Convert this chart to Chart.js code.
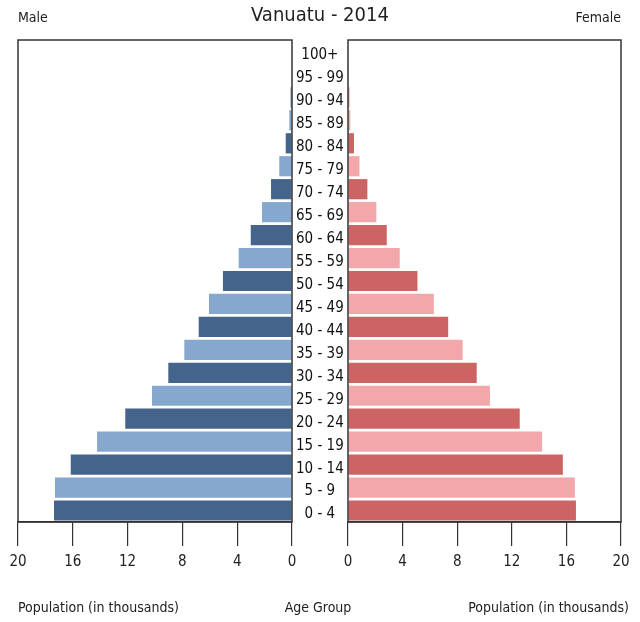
<!DOCTYPE html>
<html>
<head>
<meta charset="utf-8">
<script src="https://cdn.jsdelivr.net/npm/chart.js@4.4.1/dist/chart.umd.min.js"></script>
<style>
  html, body { margin: 0; padding: 0; background: #ffffff; }
  #wrap { position: relative; width: 640px; height: 622px; overflow: hidden; background: #fff;
          font-family: "DejaVu Sans Condensed", "DejaVu Sans", sans-serif; color: #222; }
  canvas { position: absolute; left: 0; top: 0; }
  .t { position: absolute; white-space: nowrap; line-height: 1; }
</style>
</head>
<body>
<div id="wrap">
  <canvas id="male" width="640" height="622"></canvas>
  <canvas id="female" width="640" height="622"></canvas>
  <div class="t" id="title" style="left:0;width:640px;text-align:center;top:4px;font-size:20px;">Vanuatu - 2014</div>
  <div class="t" id="lm" style="left:18px;top:10px;font-size:14px;">Male</div>
  <div class="t" id="lf" style="right:19px;top:10px;font-size:14px;">Female</div>
  <div class="t" id="bl" style="left:18px;top:600px;font-size:14px;">Population (in thousands)</div>
  <div class="t" id="bc" style="left:218px;width:200px;text-align:center;top:600px;font-size:14px;">Age Group</div>
  <div class="t" id="br" style="right:11px;top:600px;font-size:14px;">Population (in thousands)</div>
</div>
<script>
// Data (bottom to top: 0-4 first)
const ageGroups = ["0 - 4","5 - 9","10 - 14","15 - 19","20 - 24","25 - 29","30 - 34","35 - 39","40 - 44","45 - 49","50 - 54","55 - 59","60 - 64","65 - 69","70 - 74","75 - 79","80 - 84","85 - 89","90 - 94","95 - 99","100+"];
const maleValues = [17.37, 17.3, 16.15, 14.23, 12.17, 10.22, 9.03, 7.86, 6.81, 6.06, 5.04, 3.89, 3.01, 2.19, 1.53, 0.93, 0.46, 0.2, 0.1, 0.05, 0];
const femaleValues = [16.7, 16.62, 15.74, 14.22, 12.58, 10.4, 9.43, 8.4, 7.34, 6.29, 5.09, 3.79, 2.84, 2.08, 1.42, 0.84, 0.44, 0.17, 0.1, 0.07, 0];
const xTicks = [0, 4, 8, 12, 16, 20];

const maleDark = "#45648c", maleLight = "#87a8ce";
const femaleDark = "#cd6464", femaleLight = "#f2a8aa";

const FONT = '"DejaVu Sans Condensed", "DejaVu Sans", sans-serif';
Chart.defaults.font.family = FONT;
Chart.defaults.color = "#222";

const framePlugin = {
  id: 'frame',
  afterDatasetsDraw(chart) {
    const a = chart.chartArea, ctx = chart.ctx;
    ctx.save();
    ctx.strokeStyle = "#333";
    ctx.lineWidth = 1.5;
    ctx.strokeRect(a.left, a.top, a.right - a.left, a.bottom - a.top);
    ctx.restore();
  }
};

function xScale(reverse) {
  return {
    type: 'linear', min: 0, max: 20, reverse: reverse, position: 'bottom',
    afterBuildTicks(s) { s.ticks = xTicks.map(v => ({ value: v })); },
    afterFit(s) { s.height = 50; },
    ticks: { font: { size: 15 }, color: "#222", padding: 7, maxRotation: 0 },
    grid: { drawOnChartArea: false, drawTicks: true, tickLength: 24, color: "#333", lineWidth: 1.2 },
    border: { display: true, color: "#333", width: 1.5 }
  };
}

function colors(dark, light) {
  return ageGroups.map((_, i) => i % 2 === 0 ? dark : light);
}

new Chart(document.getElementById('male'), {
  type: 'bar',
  data: {
    labels: ageGroups,
    datasets: [{ data: maleValues, backgroundColor: colors(maleDark, maleLight), borderWidth: 0,
                 barPercentage: 0.88, categoryPercentage: 1.0 }]
  },
  options: {
    responsive: false, animation: false, indexAxis: 'y',
    layout: { padding: { left: 18, right: 292, top: 40, bottom: 50 } },
    plugins: { legend: { display: false }, tooltip: { enabled: false } },
    scales: {
      x: xScale(true),
      y: {
        position: 'right', reverse: true,
        afterFit(s) { s.width = 56; },
        grid: { display: false, drawTicks: false },
        border: { display: false },
        ticks: { font: { size: 15 }, color: "#111", crossAlign: 'center', padding: 4, labelOffset: 4, autoSkip: false }
      }
    }
  },
  plugins: [framePlugin]
});

new Chart(document.getElementById('female'), {
  type: 'bar',
  data: {
    labels: ageGroups,
    datasets: [{ data: femaleValues, backgroundColor: colors(femaleDark, femaleLight), borderWidth: 0,
                 barPercentage: 0.88, categoryPercentage: 1.0 }]
  },
  options: {
    responsive: false, animation: false, indexAxis: 'y',
    layout: { padding: { left: 348, right: 19, top: 40, bottom: 50 } },
    plugins: { legend: { display: false }, tooltip: { enabled: false } },
    scales: {
      x: xScale(false),
      y: { display: false, reverse: true }
    }
  },
  plugins: [framePlugin]
});
</script>
</body>
</html>
